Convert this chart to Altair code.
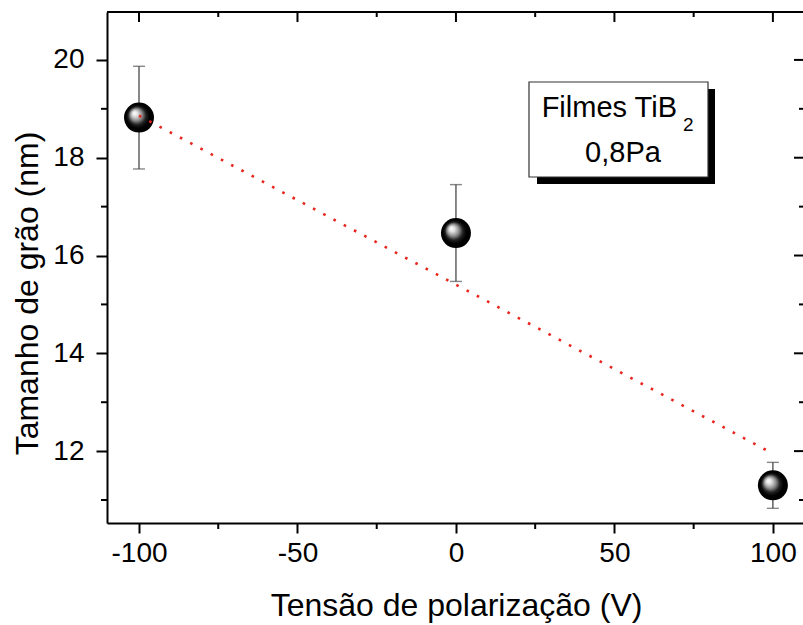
import altair as alt
import pandas as pd

# ---- data ----
bias = [-100, 0, 100]
grain = [18.82, 16.46, 11.30]
err = [1.05, 0.99, 0.47]
fit_x = [-100, 100]
fit_y = [18.86, 11.95]
x_major = [-100, -50, 0, 50, 100]
x_minor = [-75, -25, 25, 75]
y_major = [12, 14, 16, 18, 20]
y_minor = [11, 13, 15, 17, 19]
box_text = ["Filmes TiB", "2", "0,8Pa"]

FONT = "Liberation Sans"
W, H = 696, 511

df = pd.DataFrame({"bias": bias, "grain": grain, "err": err})
df["lo"] = df["grain"] - df["err"]
df["hi"] = df["grain"] + df["err"]
fit = pd.DataFrame({"bias": fit_x, "grain": fit_y})
one = pd.DataFrame({"a": [0]})

xs = alt.Scale(domain=[-110.1, 109.5], nice=False, zero=False)
ys = alt.Scale(domain=[10.53, 20.98], nice=False, zero=False)

x_axis = alt.Axis(
    values=x_major, tickSize=10, tickWidth=2, tickColor="black",
    domainWidth=2, domainColor="black", grid=False,
    labelFont=FONT, labelFontSize=28, labelColor="black", labelPadding=6,
    labelFlush=False,
    labelExpr="datum.value < 0 ? '-' + abs(datum.value) : '' + datum.value",
    title="Tensão de polarização (V)", titleFont=FONT, titleFontSize=32,
    titleFontWeight="normal", titleColor="black",
    titleX=349, titleY=92, titleBaseline="alphabetic", titleAlign="center",
)
y_axis = alt.Axis(
    values=y_major, tickSize=11, tickWidth=2, tickColor="black",
    domainWidth=2, domainColor="black", grid=False,
    labelFont=FONT, labelFontSize=28, labelColor="black", labelPadding=12,
    title="Tamanho de grão (nm)", titleFont=FONT, titleFontSize=32,
    titleFontWeight="normal", titleColor="black",
    titleX=-70, titleY=281, titleAngle=-90, titleBaseline="alphabetic",
    titleAlign="center",
)


def X(field):
    return alt.X(field, scale=xs, axis=x_axis)


def Y(field):
    return alt.Y(field, scale=ys, axis=y_axis)


base = alt.Chart(df)

errbar = base.mark_rule(color="#555555", strokeWidth=1.4).encode(
    x=X("bias:Q"), y=Y("lo:Q"), y2="hi:Q",
)
cap_lo = base.mark_tick(color="#555555", orient="horizontal", size=12, thickness=1.4).encode(
    x=X("bias:Q"), y=Y("lo:Q"),
)
cap_hi = base.mark_tick(color="#555555", orient="horizontal", size=12, thickness=1.4).encode(
    x=X("bias:Q"), y=Y("hi:Q"),
)

sphere_fill = alt.RadialGradient(
    gradient="radial",
    x1=0.34, y1=0.34, r1=0.0,
    x2=0.5, y2=0.5, r2=0.5,
    stops=[
        alt.GradientStop(offset=0.0, color="#ffffff"),
        alt.GradientStop(offset=0.18, color="#e0e0e0"),
        alt.GradientStop(offset=0.40, color="#8c8c8c"),
        alt.GradientStop(offset=0.60, color="#202020"),
        alt.GradientStop(offset=0.78, color="#000000"),
        alt.GradientStop(offset=1.0, color="#000000"),
    ],
)
spheres = base.mark_point(
    shape="circle", filled=True, fill=sphere_fill, opacity=1, size=900, strokeWidth=0
).encode(
    x=X("bias:Q"), y=Y("grain:Q"),
)

fit_line = alt.Chart(fit).mark_line(
    color="#e8261e", strokeWidth=2.6, strokeDash=[2.6, 9]
).encode(
    x=X("bias:Q"), y=Y("grain:Q"),
)

# frame: top line and inward ticks on top/right, minor ticks on bottom/left
top_line = alt.Chart(one).mark_rule(color="black", strokeWidth=2).encode(
    x=alt.value(0), x2=alt.value(W), y=alt.value(0)
)
tx_major = pd.DataFrame({"bias": x_major})
tx_minor = pd.DataFrame({"bias": x_minor})
ty_major = pd.DataFrame({"grain": y_major})
ty_minor = pd.DataFrame({"grain": y_minor})

top_major = alt.Chart(tx_major).mark_rule(color="black", strokeWidth=2).encode(
    x=X("bias:Q"), y=alt.value(0), y2=alt.value(10)
)
top_minor = alt.Chart(tx_minor).mark_rule(color="black", strokeWidth=2).encode(
    x=X("bias:Q"), y=alt.value(0), y2=alt.value(5)
)
bot_minor = alt.Chart(tx_minor).mark_rule(color="black", strokeWidth=2).encode(
    x=X("bias:Q"), y=alt.value(H), y2=alt.value(H + 6)
)
left_minor = alt.Chart(ty_minor).mark_rule(color="black", strokeWidth=2).encode(
    y=Y("grain:Q"), x=alt.value(-6), x2=alt.value(0)
)
right_major = alt.Chart(ty_major).mark_rule(color="black", strokeWidth=2).encode(
    y=Y("grain:Q"), x=alt.value(W + 2), x2=alt.value(W - 9)
)
right_minor = alt.Chart(ty_minor).mark_rule(color="black", strokeWidth=2).encode(
    y=Y("grain:Q"), x=alt.value(W + 2), x2=alt.value(W - 4)
)

# annotation box
shadow = alt.Chart(one).mark_rect(fill="black").encode(
    x=alt.value(430), x2=alt.value(608), y=alt.value(77), y2=alt.value(172)
)
box = alt.Chart(one).mark_rect(fill="white", stroke="#333333", strokeWidth=1.2).encode(
    x=alt.value(422), x2=alt.value(601), y=alt.value(70), y2=alt.value(165)
)
t1 = alt.Chart(one).mark_text(
    font=FONT, fontSize=29, color="black", align="right", baseline="alphabetic"
).encode(x=alt.value(570), y=alt.value(105), text=alt.value(box_text[0]))
t2 = alt.Chart(one).mark_text(
    font=FONT, fontSize=19, color="black", align="left", baseline="alphabetic"
).encode(x=alt.value(576), y=alt.value(119), text=alt.value(box_text[1]))
t3 = alt.Chart(one).mark_text(
    font=FONT, fontSize=29, color="black", align="center", baseline="alphabetic"
).encode(x=alt.value(516), y=alt.value(150), text=alt.value(box_text[2]))

chart = alt.layer(
    errbar, cap_lo, cap_hi, spheres, fit_line,
    top_line, top_major, top_minor, bot_minor, left_minor, right_major, right_minor,
    shadow, box, t1, t2, t3,
).properties(
    width=W, height=H,
    autosize=alt.AutoSizeParams(type="none"),
    padding={"left": 107, "top": 12, "right": 0, "bottom": 102},
    background="white",
).configure_view(stroke=None)

chart.save("out.html", embed_options={"renderer": "svg", "actions": False})
